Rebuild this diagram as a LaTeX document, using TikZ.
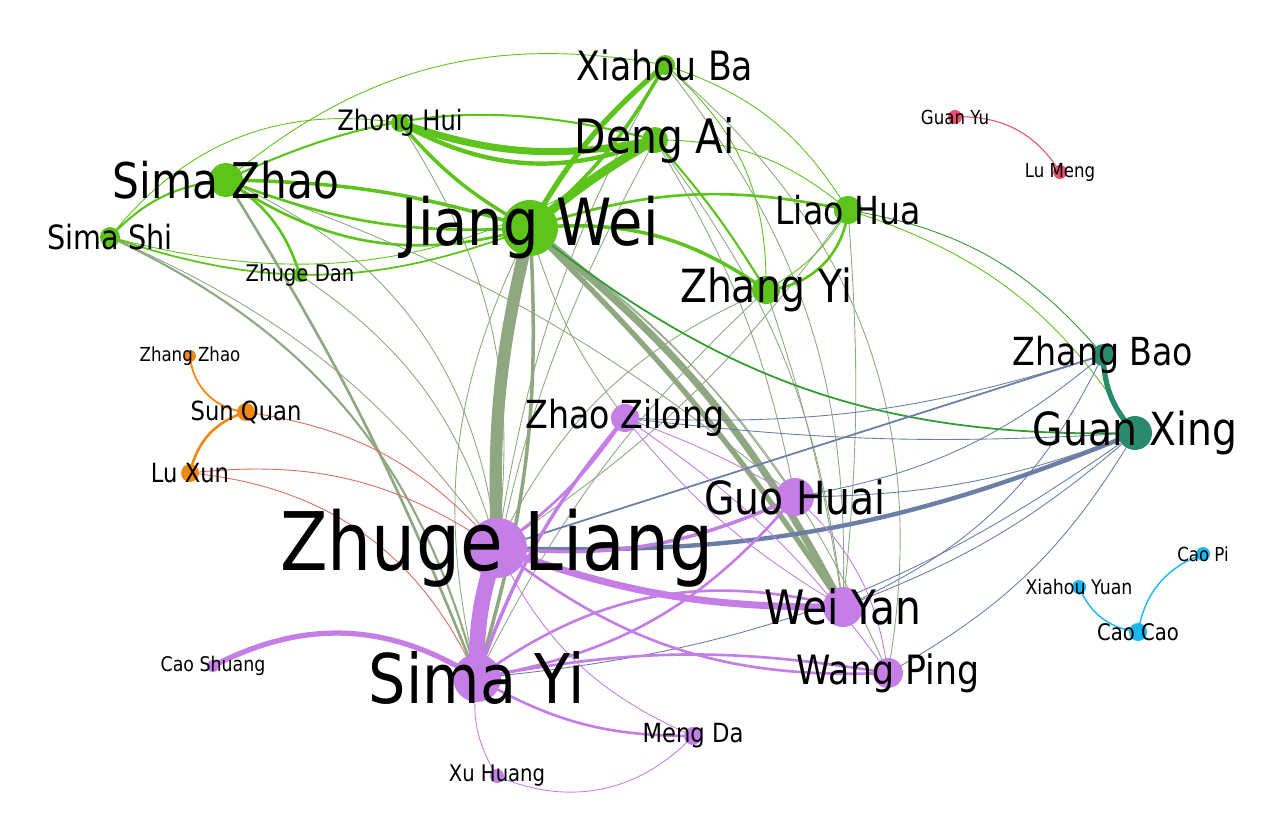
\documentclass[tikz,border=0pt]{standalone}
\usepackage{fontspec}
\setmainfont{DejaVu Sans}[FakeStretch=0.86]
\begin{document}
\begin{tikzpicture}[x=0.02cm,y=-0.02cm]
\definecolor{gr}{HTML}{5CC41A}
\definecolor{ol}{HTML}{8FA882}
\definecolor{pu}{HTML}{C47EE6}
\definecolor{sl}{HTML}{6B7FA6}
\definecolor{rd}{HTML}{E06A60}
\definecolor{og}{HTML}{EE8A14}
\definecolor{cy}{HTML}{1AB8F0}
\definecolor{pk}{HTML}{E8506E}
\definecolor{dg}{HTML}{2E9E2E}
\definecolor{tl}{HTML}{2A8A6E}
\useasboundingbox (0,0) rectangle (1280,834);
\fill[white] (0,0) rectangle (1280,834);
\tikzset{v/.style={circle,inner sep=0pt,minimum size=#1*0.04cm},
 lb/.style={inner sep=0pt,font=\fontsize{#1pt}{#1pt}\selectfont},
 e/.style={line width=0.5pt}}
% node coordinates
\coordinate (XB) at (665,65); \coordinate (DA) at (655,140); \coordinate (ZH) at (400,123);
\coordinate (SZ) at (226,180); \coordinate (SS) at (110,237); \coordinate (ZD) at (300,275);
\coordinate (JW) at (530,228); \coordinate (LH) at (848,210); \coordinate (ZY) at (766,290);
\coordinate (GY) at (955,117); \coordinate (LM) at (1060,172);
\coordinate (ZZ) at (190,356); \coordinate (SQ) at (246,412); \coordinate (LX) at (190,473);
\coordinate (ZB) at (1103,355); \coordinate (GX) at (1135,433);
\coordinate (ZL) at (625,418); \coordinate (GH) at (795,497); \coordinate (ZG) at (497,548);
\coordinate (WY) at (843,607); \coordinate (WP) at (888,673); \coordinate (SY) at (477,678);
\coordinate (CS) at (213,666); \coordinate (MD) at (693,736); \coordinate (XH) at (497,776);
\coordinate (CP) at (1203,554); \coordinate (XY) at (1079,587); \coordinate (CC) at (1138,632);
% olive edges
\draw[ol,line width=7pt] (JW) to[bend right=8] (ZG);
\draw[ol,line width=4pt] (JW) to[bend left=12] (WY);
\draw[ol,line width=3pt] (JW) to[bend left=6] (WY);
\draw[ol,line width=2pt] (JW) to[bend left=10] (SY);
\draw[ol,e] (JW) to[bend left=10] (GH);
\draw[ol,e] (JW) to[bend left=15] (WP);
\draw[ol,e] (JW) to[bend right=10] (ZL);
\draw[ol,e] (JW) to[bend right=20] (SY);
\draw[ol,line width=1.5pt] (SZ) to[bend left=5] (SY);
\draw[ol,line width=1.2pt] (SS) to[bend left=25] (SY);
\draw[ol,e] (SS) to[bend left=15] (ZG);
\draw[ol,e] (SZ) to[bend left=30] (ZG);
\draw[ol,e] (SZ) to[bend left=10] (GH);
\draw[ol,e] (ZH) to[bend left=20] (ZG);
\draw[ol,e] (DA) to[bend left=10] (GH);
\draw[ol,e] (DA) to[bend right=10] (SY);
\draw[ol,e] (DA) to[bend left=15] (WY);
\draw[ol,e] (XB) to[bend left=20] (WY);
\draw[ol,e] (XB) to[bend left=30] (WP);
\draw[ol,e] (XB) to[bend right=10] (ZG);
\draw[ol,e] (LH) to[bend left=10] (ZG);
\draw[ol,e] (LH) to[bend left=5] (WY);
\draw[ol,e] (ZY) to[bend right=10] (SY);
\draw[ol,e] (ZY) to[bend left=5] (WY);
\draw[ol,e] (ZY) to[bend right=20] (ZG);
\draw[ol,e] (ZD) to[bend left=20] (ZG);
% green edges
\draw[gr,line width=5pt] (JW) to[bend left=5] (DA);
\draw[gr,line width=3pt] (JW) to[bend left=10] (XB);
\draw[gr,line width=2pt] (JW) to[bend right=10] (XB);
\draw[gr,line width=4pt] (ZH) to[bend right=15] (DA);
\draw[gr,line width=2.5pt] (ZH) to[bend right=25] (DA);
\draw[gr,line width=2pt] (ZH) to[bend right=10] (JW);
\draw[gr,line width=2pt] (SZ) to[bend left=8] (JW);
\draw[gr,line width=1.5pt] (SZ) to[bend right=12] (JW);
\draw[gr,line width=1.5pt] (SZ) to[bend right=25] (JW);
\draw[gr,line width=1.2pt] (SZ) to[bend left=20] (DA);
\draw[gr,line width=1.5pt] (SZ) to[bend left=20] (ZD);
\draw[gr,line width=1.2pt] (SZ) to[bend right=20] (SS);
\draw[gr,e] (SZ) to[bend left=25] (XB);
\draw[gr,e] (SS) to[bend left=30] (ZH);
\draw[gr,line width=1pt] (SS) to[bend right=20] (JW);
\draw[gr,e] (SS) to[bend right=25] (DA);
\draw[gr,line width=1.5pt] (JW) to[bend left=15] (LH);
\draw[gr,line width=2pt] (JW) to[bend left=20] (ZY);
\draw[gr,line width=1.5pt] (LH) to[bend left=40] (ZY);
\draw[gr,e] (DA) to[bend left=20] (LH);
\draw[gr,line width=1.2pt] (DA) to[bend left=5] (ZY);
\draw[gr,e] (XB) to[bend left=25] (ZY);
\draw[gr,e] (XB) to[bend left=20] (LH);
\draw[gr,e] (LH) to[bend left=20] (GX);
\draw[gr,e] (ZY) to[bend right=15] (LH);
% dark green
\draw[dg,line width=1pt] (JW) to[bend right=20] (GX);
\draw[dg,e] (LH) to[bend left=20] (ZB);
% slate
\draw[sl,line width=2.5pt] (ZG) to[bend right=12] (GX);
\draw[sl,line width=1pt] (ZG) to[bend left=0] (ZB);
\draw[sl,e] (ZL) to[bend right=5] (GX);
\draw[sl,e] (ZL) to[bend right=10] (ZB);
\draw[sl,e] (GH) to[bend right=15] (ZB);
\draw[sl,e] (GH) to[bend right=10] (GX);
\draw[sl,e] (WY) to[bend right=10] (GX);
\draw[sl,e] (WY) to[bend right=20] (ZB);
\draw[sl,e] (WP) to[bend right=15] (GX);
\draw[sl,e] (SY) to[bend right=15] (GX);
\draw[tl,line width=3pt] (ZB) to[bend right=20] (GX);
% red
\draw[rd,e] (SQ) to[bend left=20] (ZG);
\draw[rd,e] (LX) to[bend left=20] (ZG);
\draw[rd,e] (LX) to[bend left=30] (SY);
% orange
\draw[og,line width=1pt] (ZZ) to[bend right=40] (SQ);
\draw[og,line width=1.5pt] (SQ) to[bend right=30] (LX);
% purple
\draw[pu,line width=9pt] (ZG) to[bend right=10] (SY);
\draw[pu,line width=4pt] (ZG) to[bend right=10] (WY);
\draw[pu,line width=2pt] (ZG) to[bend right=15] (GH);
\draw[pu,line width=1.5pt] (ZG) to[bend right=10] (ZL);
\draw[pu,line width=1.5pt] (ZG) to[bend right=20] (WP);
\draw[pu,e] (ZG) to[bend right=20] (MD);
\draw[pu,line width=3pt] (SY) to[bend right=30] (CS);
\draw[pu,line width=1.5pt] (SY) to[bend right=20] (GH);
\draw[pu,line width=1.5pt] (SY) to[bend left=25] (WY);
\draw[pu,line width=1.5pt] (SY) to[bend left=10] (WP);
\draw[pu,line width=1.5pt] (SY) to[bend right=15] (MD);
\draw[pu,e] (SY) to[bend right=20] (XH);
\draw[pu,e] (XH) to[bend right=35] (MD);
\draw[pu,line width=2pt] (ZL) to[bend right=10] (SY);
\draw[pu,e] (ZL) to[bend right=10] (WY);
\draw[pu,e] (ZL) to[bend left=10] (WP);
\draw[pu,e] (ZL) to[bend left=5] (GH);
\draw[pu,e] (GH) to[bend left=20] (WP);
% others
\draw[cy,line width=0.8pt] (CP) to[bend right=30] (CC);
\draw[cy,line width=0.8pt] (XY) to[bend right=30] (CC);
\draw[pk,line width=0.6pt] (GY) to[bend left=30] (LM);
% vertices
\foreach \p/\r/\c in {XB/10/gr,DA/13/gr,ZH/9/gr,SZ/17/gr,SS/10/gr,ZD/7/gr,JW/28/gr,LH/14/gr,ZY/14/gr,
 GY/7/pk,LM/7/pk,ZZ/6/og,SQ/9/og,LX/9/og,ZB/11/tl,GX/17/tl,ZL/14/pu,GH/19/pu,ZG/30/pu,WY/20/pu,WP/15/pu,SY/24/pu,
 CS/6/pu,MD/9/pu,XH/7/pu,CP/7/cy,XY/7/cy,CC/9/cy}
 \node[v=\r,fill=\c] (n\p) at (\p) {};
% labels
\node[lb=23] (lXB) at (XB) {Xiahou Ba};
\node[lb=27] (lDA) at (DA) {Deng Ai};
\node[lb=16] (lZH) at (ZH) {Zhong Hui};
\node[lb=28] (lSZ) at (SZ) {Sima Zhao};
\node[lb=19] (lSS) at (SS) {Sima Shi};
\node[lb=13] (lZD) at (ZD) {Zhuge Dan};
\node[lb=37] (lJW) at (JW) {Jiang Wei};
\node[lb=22] (lLH) at (LH) {Liao Hua};
\node[lb=26] (lZY) at (ZY) {Zhang Yi};
\node[lb=11] (lGY) at (GY) {Guan Yu};
\node[lb=11] (lLM) at (LM) {Lu Meng};
\node[lb=11] (lZZ) at (ZZ) {Zhang Zhao};
\node[lb=15] (lSQ) at (SQ) {Sun Quan};
\node[lb=15] (lLX) at (LX) {Lu Xun};
\node[lb=22] (lZB) at (ZB) {Zhang Bao};
\node[lb=26] (lGX) at (GX) {Guan Xing};
\node[lb=22] (lZL) at (ZL) {Zhao Zilong};
\node[lb=26] (lGH) at (GH) {Guo Huai};
\node[lb=46] (lZG) at (ZG) {Zhuge Liang};
\node[lb=27] (lWY) at (WY) {Wei Yan};
\node[lb=23] (lWP) at (WP) {Wang Ping};
\node[lb=39] (lSY) at (SY) {Sima Yi};
\node[lb=11.5] (lCS) at (CS) {Cao Shuang};
\node[lb=15] (lMD) at (MD) {Meng Da};
\node[lb=13] (lXH) at (XH) {Xu Huang};
\node[lb=11] (lCP) at (CP) {Cao Pi};
\node[lb=11.5] (lXY) at (XY) {Xiahou Yuan};
\node[lb=13] (lCC) at (CC) {Cao Cao};
\end{tikzpicture}
\end{document}
